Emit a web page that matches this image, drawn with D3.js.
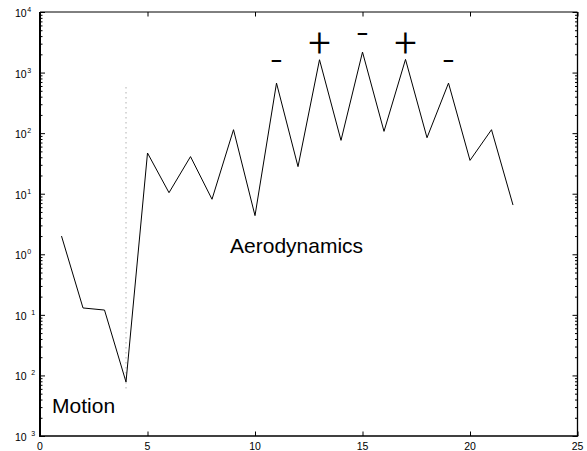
<!DOCTYPE html>
<html><head><meta charset="utf-8">
<script src="https://cdn.jsdelivr.net/npm/d3@7"></script>
<style>body{margin:0;background:#fff}svg{display:block}text{font-family:"Liberation Sans",Arial,Helvetica,sans-serif;fill:#000}</style>
</head><body>
<script>
const xValues = [1,2,3,4,5,6,7,8,9,10,11,12,13,14,15,16,17,18,19,20,21,22];
const yValues = [2.0,0.13,0.12,0.0078,47,10.4,41,8.1,114,4.35,670,28,1630,76,2180,107,1650,84,670,35.5,114,6.5];
const xTicks = [0,5,10,15,20,25];
const yExponents = [-3,-2,-1,0,1,2,3,4];
const markerX = 4;
const markerRange = [0.0057, 570];
const signLabels = ["-","+","-","+","-"];
const signX = [11,13,15,17,19];
const signY = [1530,2920,4380,2920,1530];
const noteLabels = ["Motion","Aerodynamics"];
const noteX = [0.56, 8.84];
const noteY = [0.0024, 1.04];

const W=587,H=451;
const svg=d3.select("body").append("svg").attr("width",W).attr("height",H);
const x=d3.scaleLinear().domain([0,25]).range([40,577.5]);
const y=d3.scaleLog().domain([1e-3,1e4]).range([436,12]);
const x0=x.range()[0],x1=x.range()[1],y0=y.range()[0],y1=y.range()[1];

const majors=yExponents.map(e=>Math.pow(10,e));
const minors=[];
yExponents.slice(0,-1).forEach(e=>{for(let k=2;k<10;k++)minors.push(k*Math.pow(10,e));});

function clean(g){g.select(".domain").remove();g.selectAll("line").attr("stroke","#000");}
svg.append("g").attr("transform",`translate(0,${y0})`)
  .call(d3.axisBottom(x).tickValues(xTicks).tickSize(-4.5).tickFormat(""))
  .call(clean);
svg.append("g").attr("transform",`translate(0,${y1})`)
  .call(d3.axisTop(x).tickValues(xTicks).tickSize(-4.5).tickFormat(""))
  .call(clean);
[[d3.axisLeft,x0],[d3.axisRight,x1]].forEach(([ax,px])=>{
  svg.append("g").attr("transform",`translate(${px},0)`)
    .call(ax(y).tickValues(majors).tickSize(-5).tickFormat("")).call(clean);
  svg.append("g").attr("transform",`translate(${px},0)`)
    .call(ax(y).tickValues(minors).tickSize(-2.5).tickFormat("")).call(clean);
});
svg.append("line").attr("x1",x0).attr("x2",x1).attr("y1",y1).attr("y2",y1).attr("stroke","#000").attr("stroke-width",1);
svg.append("line").attr("x1",x1).attr("x2",x1).attr("y1",y1).attr("y2",y0).attr("stroke","#000").attr("stroke-width",1.3);
svg.append("line").attr("x1",x0-1).attr("x2",x1+0.7).attr("y1",y0).attr("y2",y0).attr("stroke","#000").attr("stroke-width",1.6);
svg.append("line").attr("x1",x0).attr("x2",x0).attr("y1",y1).attr("y2",y0+0.8).attr("stroke","#000").attr("stroke-width",2);

svg.append("g").selectAll("text").data(xTicks).join("text")
  .attr("x",d=>x(d)).attr("y",y0+14).attr("text-anchor","middle")
  .attr("font-size",10.5).attr("fill","#222").text(d=>d);
const yl=svg.append("g").selectAll("text").data(yExponents).join("text")
  .attr("x",15).attr("y",e=>y(Math.pow(10,e))+5).attr("font-size",10.5).attr("fill","#222");
yl.append("tspan").text("10");
yl.append("tspan").attr("font-size",7).attr("dy",-5).attr("dx",e=>e<0?1:0.5)
  .attr("xml:space","preserve").text(e=>e<0?"\u2002"+Math.abs(e):String(e));

svg.append("line").attr("x1",x(markerX)).attr("x2",x(markerX))
  .attr("y1",y(markerRange[1])).attr("y2",y(markerRange[0]))
  .attr("stroke","#888").attr("stroke-width",1).attr("stroke-dasharray","1,4");

svg.append("path").datum(xValues.map((v,i)=>[v,yValues[i]]))
  .attr("d",d3.line().x(d=>x(d[0])).y(d=>y(d[1])))
  .attr("fill","none").attr("stroke","#000").attr("stroke-width",1);

svg.append("g").selectAll("text").data(signLabels).join("text")
  .attr("x",(d,i)=>x(signX[i])).attr("y",(d,i)=>y(signY[i])+13)
  .attr("text-anchor","middle").attr("font-size",40)
  .style("font-family","Roboto, 'Liberation Sans', sans-serif").style("font-weight",300)
  .text(d=>d);

svg.append("g").selectAll("text").data(noteLabels).join("text")
  .attr("x",(d,i)=>x(noteX[i])).attr("y",(d,i)=>y(noteY[i]))
  .attr("font-size",21).attr("fill","#111").text(d=>d);
</script>
</body></html>
